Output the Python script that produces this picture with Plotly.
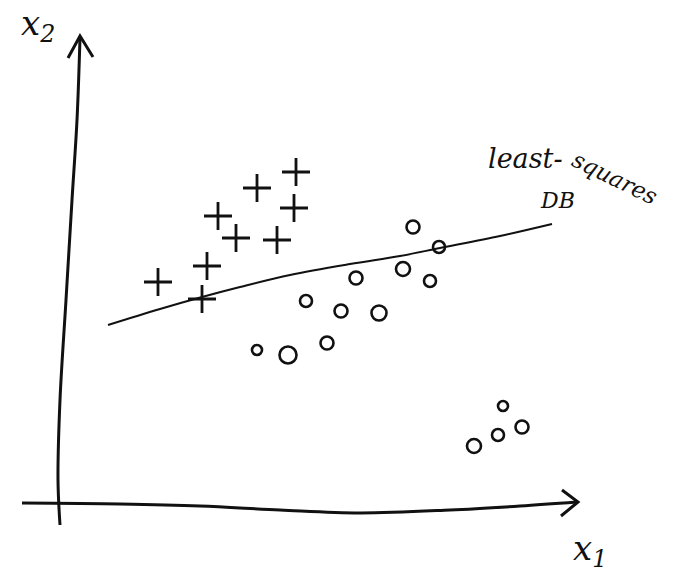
import plotly.graph_objects as go

# Class "+" samples (x1, x2)
plus_x1 = [1.96, 2.94, 2.84, 3.16, 3.52, 3.94, 4.34, 4.72, 4.68]
plus_x2 = [4.42, 4.74, 4.08, 5.74, 5.30, 6.30, 5.26, 6.62, 5.90]

# Class "o" samples (x1, x2)
circ_x1 = [7.06, 7.58, 6.86, 5.92, 7.40, 4.92, 5.62, 6.38, 3.94, 4.56, 5.34, 8.86, 8.28, 8.76, 9.24]
circ_x2 = [5.52, 5.12, 4.68, 4.50, 4.44, 4.04, 3.84, 3.80, 3.06, 2.96, 3.20, 1.94, 1.14, 1.36, 1.52]
circ_size = [13, 12, 14, 13, 12, 12, 13, 15, 10, 17, 13, 10, 14, 12, 13]

# Least-squares decision boundary
db_x1 = [0.96, 2.0, 2.84, 3.6, 4.6, 5.8, 6.8, 7.6, 8.8, 9.84]
db_x2 = [3.56, 3.88, 4.12, 4.32, 4.56, 4.78, 4.94, 5.10, 5.34, 5.58]

# Hand-drawn axes
yaxis_x1 = [0.0, -0.04, 0.0, 0.12, 0.24, 0.34, 0.40]
yaxis_x2 = [-0.44, 0.46, 2.06, 4.06, 6.06, 7.66, 9.30]
xaxis_x1 = [-0.76, 1.2, 2.8, 4.4, 6.0, 7.8, 9.2, 10.34]
xaxis_x2 = [0.0, -0.02, -0.06, -0.14, -0.20, -0.14, -0.06, 0.02]
yhead_x1 = [0.16, 0.40, 0.66]
yhead_x2 = [8.90, 9.34, 8.92]
xhead_x1 = [10.04, 10.36, 10.02]
xhead_x2 = [0.26, 0.02, -0.26]

ink = "#111111"
fig = go.Figure()

for xs, ys in [(yaxis_x1, yaxis_x2), (xaxis_x1, xaxis_x2)]:
    fig.add_trace(go.Scatter(x=xs, y=ys, mode="lines",
                             line=dict(color=ink, width=3, shape="spline"),
                             hoverinfo="skip"))
for xs, ys in [(yhead_x1, yhead_x2), (xhead_x1, xhead_x2)]:
    fig.add_trace(go.Scatter(x=xs, y=ys, mode="lines",
                             line=dict(color=ink, width=3),
                             hoverinfo="skip"))

fig.add_trace(go.Scatter(x=db_x1, y=db_x2, mode="lines",
                         line=dict(color=ink, width=2, shape="spline"),
                         hoverinfo="skip"))

fig.add_trace(go.Scatter(x=plus_x1, y=plus_x2, mode="markers",
                         marker=dict(symbol="cross-thin", size=20,
                                     line=dict(color=ink, width=2.8))))

fig.add_trace(go.Scatter(x=circ_x1, y=circ_x2, mode="markers",
                         marker=dict(symbol="circle", size=circ_size,
                                     color="rgba(255,255,255,0)", opacity=1,
                                     line=dict(color=ink, width=2.6))))

hand = dict(family="DejaVu Serif", color=ink, style="italic")
fig.add_annotation(x=-0.44, y=9.56, text="x<sub>2</sub>", showarrow=False,
                   font=dict(hand, size=34))
fig.add_annotation(x=10.6, y=-0.94, text="x<sub>1</sub>", showarrow=False,
                   font=dict(hand, size=34))
fig.add_annotation(x=9.3, y=6.9, text="least-", showarrow=False,
                   font=dict(hand, size=27))
fig.add_annotation(x=11.1, y=6.5, text="squares", showarrow=False, textangle=26,
                   font=dict(hand, size=23))
fig.add_annotation(x=9.94, y=6.06, text="DB", showarrow=False,
                   font=dict(hand, size=22))

fig.update_layout(
    width=674, height=573,
    margin=dict(l=0, r=0, t=0, b=0),
    paper_bgcolor="white", plot_bgcolor="white",
    showlegend=False,
    xaxis=dict(range=[-1.2, 12.28], visible=False, fixedrange=True),
    yaxis=dict(range=[-1.4, 10.06], visible=False, fixedrange=True),
)

fig.write_html("out.html")
